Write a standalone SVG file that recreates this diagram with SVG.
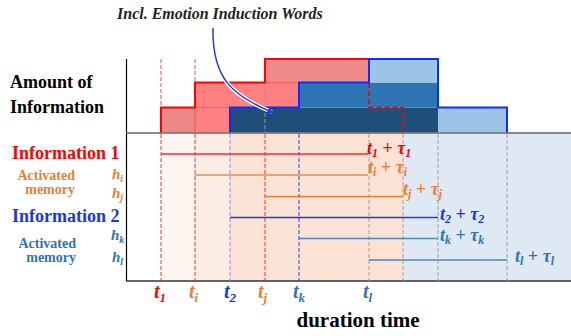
<svg xmlns="http://www.w3.org/2000/svg" width="571" height="336" viewBox="0 0 571 336" font-family="'Liberation Serif', 'Times New Roman', serif">
<style>
text{font-family:"Liberation Serif","Times New Roman",serif;font-weight:bold}
.it{font-style:italic}
.red{fill:#ff0000}.org{fill:#ed7d31}.blu{fill:#1438f0}.stl{fill:#2e75b6}
.vd{stroke-width:1;stroke-dasharray:4 2;fill:none}
</style>
<defs>
<marker id="ah" viewBox="0 0 10 10" refX="9" refY="5" markerWidth="5" markerHeight="5" orient="auto"><path d="M0,1 L10,5 L0,9 z" fill="#1a3cf0"/></marker>
</defs>
<rect width="571" height="336" fill="#ffffff"/>
<g id="lower-bg">
<rect x="161" y="133" width="34" height="148" fill="#fdf5f0"/>
<rect x="195" y="133" width="35" height="148" fill="#fbece4"/>
<rect x="230" y="133" width="173" height="148" fill="#fae3d4"/>
<rect x="403" y="133" width="168" height="148" fill="#dfe9f4"/>
</g>
<g id="bars">
<rect x="161" y="107.5" width="34" height="25" fill="#ea8888"/>
<rect x="195" y="107.5" width="35" height="25" fill="#ff8080"/>
<rect x="230" y="107.5" width="208" height="25" fill="#1f4e79"/>
<rect x="438" y="107.5" width="69" height="25" fill="#9dc3e6"/>
<rect x="195" y="82.5" width="104" height="25" fill="#ff8080"/>
<rect x="299" y="82.5" width="139" height="25" fill="#2e75b6"/>
<rect x="265" y="59" width="104" height="23.5" fill="#f08989"/>
<rect x="369" y="59" width="69" height="23.5" fill="#9dc3e6"/>
<path d="M195,107.5 H230 M195,82.5 V133 M265,82.5 H299" stroke="#ff3a3a" stroke-width="1" fill="none" opacity="0.7"/>
<path d="M265,83 V133" stroke="#9a9a9a" class="vd"/>
<path d="M161,133 V107.5 H195 V82.5 H265 V59 H369" stroke="#ff0000" stroke-width="2" fill="none"/>
<path d="M230,133 V107.5 H299 V82.5 H369 V59 H438 V107.5 H507 V133" stroke="#0a30ff" stroke-width="2" fill="none"/>
<path d="M369,83 V107.5 H403 V133" stroke="#ff0000" stroke-width="2" stroke-dasharray="5 3" fill="none"/>
<path d="M161,59 V107 M195,59 V82" stroke="#ff4a4a" class="vd"/>
</g>
<g id="axes">
<path d="M126.5,59 V281" stroke="#000" stroke-width="1.2"/>
<path d="M126,133 H571" stroke="#666" stroke-width="1.5"/>
<path d="M126,281 H571" stroke="#333" stroke-width="1.5"/>
</g>
<g id="time-lines">
<path d="M161,134 V281" stroke="#ff3030" class="vd"/>
<path d="M195,134 V281" stroke="#ff3030" class="vd"/>
<path d="M230,134 V281" stroke="#8a8aff" class="vd"/>
<path d="M265,134 V281" stroke="#ff3030" class="vd"/>
<path d="M299,134 V281" stroke="#2040e8" class="vd"/>
<path d="M369,134 V281" stroke="#a0a0a0" class="vd"/>
<path d="M403,134 V281" stroke="#a0a0a0" class="vd"/>
<path d="M438,134 V281" stroke="#a0a0a0" class="vd"/>
<path d="M507,134 V281" stroke="#a0a0a0" class="vd"/>
</g>
<g id="connectors" fill="none" stroke-width="1.5">
<path d="M161,154 H368" stroke="#ff2a2a"/>
<path d="M195,175 H368" stroke="#ed8a4a"/>
<path d="M265,196.5 H403" stroke="#ed7d31"/>
<path d="M230,217.5 H438" stroke="#1f3fe0"/>
<path d="M299,238.5 H438" stroke="#4a86c0"/>
<path d="M369,260 H507" stroke="#4a86c0"/>
<path d="M213,28 C212,78 232,96 272,112" stroke="#ffffff" stroke-width="4"/>
<path d="M213,28 C212,78 232,96 274,113" stroke="#1a3cf0" stroke-width="1.5" marker-end="url(#ah)"/>
</g>
<g id="label-amount"><text x="10" y="88" font-size="18">Amount of</text><text x="10" y="112.5" font-size="18">Information</text></g>
<g id="label-info1"><text class="red" x="12" y="159" font-size="18">Information 1</text></g>
<g id="label-act1" class="org" font-size="14"><text x="75" y="180" text-anchor="end">Activated</text><text x="75" y="193.5" text-anchor="end">memory</text></g>
<g id="label-hi"><text class="it org" x="112" y="179" font-size="15">h<tspan font-size="10" dy="3">i</tspan></text></g>
<g id="label-hj"><text class="it org" x="112" y="198" font-size="15">h<tspan font-size="10" dy="3">j</tspan></text></g>
<g id="label-info2"><text class="blu" x="12" y="222" font-size="18">Information 2</text></g>
<g id="label-act2" class="stl" font-size="14"><text x="76" y="248" text-anchor="end">Activated</text><text x="76" y="261.5" text-anchor="end">memory</text></g>
<g id="label-hk"><text class="it stl" x="111" y="240" font-size="15">h<tspan font-size="10" dy="3">k</tspan></text></g>
<g id="label-hl"><text class="it stl" x="112" y="261.5" font-size="15">h<tspan font-size="10" dy="3">l</tspan></text></g>
<g id="end-1"><text class="red" x="367" y="154" font-size="18"><tspan class="it">t</tspan><tspan class="it" font-size="12" dy="3">1</tspan><tspan dy="-3"> + </tspan><tspan class="it">τ</tspan><tspan class="it" font-size="12" dy="3">1</tspan></text></g>
<g id="end-i"><text class="org" x="368" y="172.5" font-size="18"><tspan class="it">t</tspan><tspan class="it" font-size="12" dy="3">i</tspan><tspan dy="-3"> + </tspan><tspan class="it">τ</tspan><tspan class="it" font-size="12" dy="3">i</tspan></text></g>
<g id="end-j"><text class="org" x="403" y="194.5" font-size="18"><tspan class="it">t</tspan><tspan class="it" font-size="12" dy="3">j</tspan><tspan dy="-3"> + </tspan><tspan class="it">τ</tspan><tspan class="it" font-size="12" dy="3">j</tspan></text></g>
<g id="end-2"><text class="blu" x="440" y="220" font-size="18"><tspan class="it">t</tspan><tspan class="it" font-size="12" dy="3">2</tspan><tspan dy="-3"> + </tspan><tspan class="it">τ</tspan><tspan class="it" font-size="12" dy="3">2</tspan></text></g>
<g id="end-k"><text class="stl" x="440" y="241" font-size="18"><tspan class="it">t</tspan><tspan class="it" font-size="12" dy="3">k</tspan><tspan dy="-3"> + </tspan><tspan class="it">τ</tspan><tspan class="it" font-size="12" dy="3">k</tspan></text></g>
<g id="end-l"><text class="stl" x="515" y="262" font-size="18"><tspan class="it">t</tspan><tspan class="it" font-size="12" dy="3">l</tspan><tspan dy="-3"> + </tspan><tspan class="it">τ</tspan><tspan class="it" font-size="12" dy="3">l</tspan></text></g>
<g id="tick-t1"><text class="it red" x="154" y="298" font-size="20">t<tspan font-size="13" dy="4">1</tspan></text></g>
<g id="tick-ti"><text class="it org" x="189" y="298" font-size="20">t<tspan font-size="13" dy="4">i</tspan></text></g>
<g id="tick-t2"><text class="it blu" x="224" y="298" font-size="20">t<tspan font-size="13" dy="4">2</tspan></text></g>
<g id="tick-tj"><text class="it org" x="258" y="298" font-size="20">t<tspan font-size="13" dy="4">j</tspan></text></g>
<g id="tick-tk"><text class="it stl" x="293" y="298" font-size="20">t<tspan font-size="13" dy="4">k</tspan></text></g>
<g id="tick-tl"><text class="it stl" x="363" y="298" font-size="20">t<tspan font-size="13" dy="4">l</tspan></text></g>
<g id="label-duration"><text x="358" y="327" font-size="21" text-anchor="middle">duration time</text></g>
<g id="label-annotation"><text x="117" y="19" font-size="16" font-style="italic" font-weight="normal" fill="#222">Incl. Emotion Induction Words</text></g>
</svg>
